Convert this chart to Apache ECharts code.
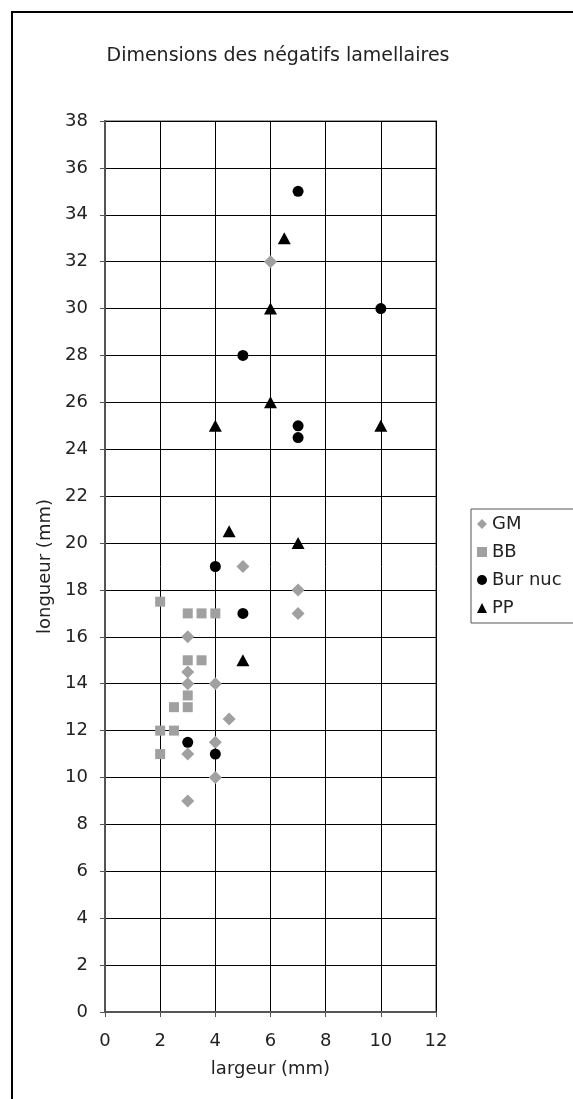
<!DOCTYPE html>
<html>
<head>
<meta charset="utf-8">
<title>Dimensions des négatifs lamellaires</title>
<script src="https://cdn.jsdelivr.net/npm/echarts@6/dist/echarts.min.js"></script>
<style>
html,body{margin:0;padding:0;background:#fff;}
#chart{width:573px;height:1099px;}
</style>
</head>
<body>
<div id="chart"></div>
<script>
// largeur (mm), longueur (mm)
var gmData=[[6,32],[5,19],[7,18],[7,17],[3,16],[3,14.5],[3,14],[4,14],[4.5,12.5],[4,11.5],[3,11],[4,10],[3,9]];
var bbData=[[2,17.5],[3,17],[3.5,17],[4,17],[3,15],[3.5,15],[3,13.5],[2.5,13],[3,13],[2,12],[2.5,12],[2,11]];
var burNucData=[[7,35],[10,30],[5,28],[7,25],[7,24.5],[4,19],[5,17],[3,11.5],[4,11]];
var ppData=[[6.5,33],[6,30],[6,26],[4,25],[10,25],[4.5,20.5],[7,20],[5,15]];
var seriesNames=['GM','BB','Bur nuc','PP'];

var FONT='DejaVu Sans';
var TXT='#222';
var chart=echarts.init(document.getElementById('chart'));
var option={
	animation:false,
	textStyle:{fontFamily:FONT},
	title:{
		text:'Dimensions des négatifs lamellaires',
		left:273,top:42,textAlign:'center',
		textStyle:{fontFamily:FONT,fontSize:19,fontWeight:'normal',color:TXT}
	},
	graphic:[{
		type:'rect',
		shape:{x:12,y:12,width:800,height:1300},
		style:{fill:'none',stroke:'#000',lineWidth:2}
	}],
	legend:{
		orient:'vertical',
		left:471,top:509,
		itemGap:10,
		itemWidth:10,itemHeight:10,
		padding:[6,40,6,6],
		borderColor:'#555',borderWidth:1,
		textStyle:{fontFamily:FONT,fontSize:18,color:TXT},
		data:[
			{name:'GM',icon:'diamond'},
			{name:'BB',icon:'rect'},
			{name:'Bur nuc',icon:'circle'},
			{name:'PP',icon:'triangle'}
		]
	},
	grid:{
		left:105,top:121,right:137,bottom:87,
		show:true,borderColor:'#a0a0a0',borderWidth:2
	},
	xAxis:{
		type:'value',min:0,max:12,interval:2,
		name:'largeur (mm)',nameLocation:'middle',nameGap:48,
		nameTextStyle:{fontFamily:FONT,fontSize:18,color:TXT},
		axisLine:{show:true,lineStyle:{color:'#555',width:2}},
		axisTick:{show:true,length:5,lineStyle:{color:'#555'}},
		axisLabel:{fontFamily:FONT,fontSize:18,color:TXT,margin:20},
		splitLine:{show:true,lineStyle:{color:'#000',width:1}}
	},
	yAxis:{
		type:'value',min:0,max:38,interval:2,
		name:'longueur (mm)',nameLocation:'middle',nameGap:51,nameRotate:90,
		nameTextStyle:{fontFamily:FONT,fontSize:18,color:TXT},
		axisLine:{show:true,lineStyle:{color:'#555',width:2}},
		axisTick:{show:true,length:5,lineStyle:{color:'#555'}},
		axisLabel:{fontFamily:FONT,fontSize:18,color:TXT,margin:17},
		splitLine:{show:true,lineStyle:{color:'#000',width:1}}
	},
	series:[
		{name:seriesNames[0],type:'scatter',symbol:'diamond',symbolSize:13,data:gmData,itemStyle:{color:'#a0a0a0',opacity:1}},
		{name:seriesNames[1],type:'scatter',symbol:'rect',symbolSize:10,data:bbData,itemStyle:{color:'#a0a0a0',opacity:1}},
		{name:seriesNames[2],type:'scatter',symbol:'circle',symbolSize:11,data:burNucData,itemStyle:{color:'#000',opacity:1}},
		{name:seriesNames[3],type:'scatter',symbol:'triangle',symbolSize:[13,12],data:ppData,itemStyle:{color:'#000',opacity:1}}
	]
};
chart.setOption(option);
</script>
</body>
</html>
